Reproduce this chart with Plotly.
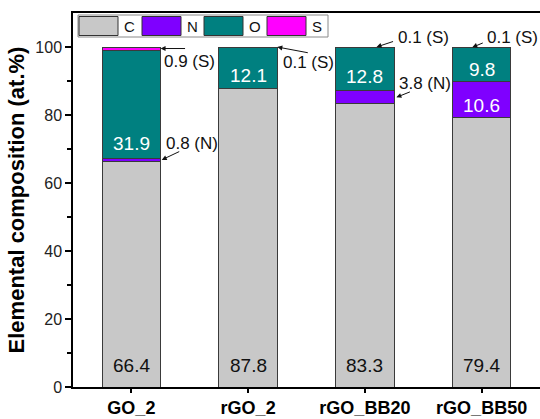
import plotly.graph_objects as go

# Elemental composition (at.%) of each sample, stacked C / N / O / S
samples = ["GO_2", "rGO_2", "rGO_BB20", "rGO_BB50"]
elements = ["C", "N", "O", "S"]
c_vals = [66.4, 87.8, 83.3, 79.4]
n_vals = [0.8, 0.0, 3.8, 10.6]
o_vals = [31.9, 12.1, 12.8, 9.8]
s_vals = [0.9, 0.1, 0.1, 0.1]
colors = ["#c8c8c8", "#7f00ff", "#008080", "#ff00ff"]

series = {"C": c_vals, "N": n_vals, "O": o_vals, "S": s_vals}

W, H = 540, 419
ML, MR, MT, MB = 73, 0, 13, 32
FONT = "Arial, Liberation Sans, sans-serif"

fig = go.Figure()
for el, col in zip(elements, colors):
    fig.add_trace(go.Bar(
        x=list(range(len(samples))), y=series[el], name=el,
        width=0.5, marker=dict(color=col, line=dict(color="#3a3a3a", width=1)),
        showlegend=False,
    ))

# cumulative base of every segment
bases = {}
running = [0.0] * len(samples)
for el in elements:
    bases[el] = list(running)
    running = [r + v for r, v in zip(running, series[el])]

annotations = []

# values printed inside the larger segments (C at the base, N/O inside)
inside_labels = [("C", i, "#111111", 22) for i in range(4)] + [
    ("O", 0, "white", 15), ("O", 1, "white", 13), ("O", 2, "white", 14),
    ("O", 3, "white", 12), ("N", 3, "white", 12)]
for el, i, col, shift in inside_labels:
    annotations.append(dict(
        x=i, y=bases[el][i], xref="x", yref="y", text=f"{series[el][i]:.1f}",
        showarrow=False, yanchor="middle", yshift=shift,
        font=dict(family=FONT, size=19, color=col)))

# callouts for the thin segments: (element, sample, head x offset, head pos,
# arrow tail dx, dy in px, text x offset, text dx, text dy)
callouts = [
    ("S", 0, 0.25, "mid", 26, 0, 0.25, 1, -13),
    ("S", 1, 0.25, "top", 32, 6, 0.25, 4, -15),
    ("S", 2, 0.10, "top", 18, -6, 0.25, 2, 10),
    ("S", 3, -0.08, "top", 12, -5, 0.0, 3, 10),
    ("N", 2, 0.27, "mid", 15, -6, 0.25, 3, 14),
    ("N", 0, 0.26, "mid", 19, -9, 0.25, 3, 16),
]
for el, i, hx, pos, ax, ay, tx, tdx, tdy in callouts:
    v = series[el][i]
    y_head = bases[el][i] + (v / 2 if pos == "mid" else v)
    annotations.append(dict(
        x=i + hx, y=y_head, xref="x", yref="y", text="", showarrow=True,
        ax=ax, ay=ay, arrowhead=2, arrowsize=1, arrowwidth=1,
        arrowcolor="#111111", standoff=0))
    annotations.append(dict(
        x=i + tx, y=y_head, xref="x", yref="y", text=f"{v:.1f} ({el})",
        showarrow=False, xanchor="left", yanchor="middle",
        xshift=tdx, yshift=tdy, font=dict(family=FONT, size=17, color="#111111")))

# framed legend row in the top-left corner
pw, ph = W - ML - MR, H - MT - MB


def px(xp):
    return (xp - ML) / pw


def py(yp):
    return (H - MB - yp) / ph


shapes = [dict(type="rect", xref="paper", yref="paper",
               x0=px(78), x1=px(328), y0=py(37), y1=py(15),
               line=dict(color="#8a8a8a", width=1), fillcolor="white")]
sw_left = [79, 142, 204, 267]
letter_x = [129.5, 192.5, 254.5, 317]
for el, col, x0, lx in zip(elements, colors, sw_left, letter_x):
    shapes.append(dict(type="rect", xref="paper", yref="paper",
                       x0=px(x0), x1=px(x0 + 39), y0=py(35.5), y1=py(16.5),
                       line=dict(color="#333333", width=1), fillcolor=col))
    annotations.append(dict(x=px(lx), y=py(26), xref="paper", yref="paper",
                            text=el, showarrow=False, xanchor="center",
                            yanchor="middle",
                            font=dict(family=FONT, size=15, color="#111111")))

fig.update_layout(
    width=W, height=H, barmode="stack", bargap=0.5,
    margin=dict(l=ML, r=MR, t=MT, b=MB, autoexpand=False),
    plot_bgcolor="white", paper_bgcolor="white",
    annotations=annotations, shapes=shapes,
    font=dict(family=FONT, color="#111111"),
)
fig.update_xaxes(
    range=[-0.5, 3.5], tickmode="array", tickvals=list(range(4)),
    ticktext=samples, showgrid=False, zeroline=False,
    showline=True, linecolor="black", linewidth=1.5, mirror=True,
    ticks="outside", ticklen=4, tickwidth=1.5, tickcolor="black",
    tickfont=dict(family=FONT, size=18, color="black", weight="bold"),
)
fig.update_yaxes(
    range=[0, 110], tickmode="array", tickvals=[0, 20, 40, 60, 80, 100],
    showgrid=False, zeroline=False,
    showline=True, linecolor="black", linewidth=1.5,
    ticks="outside", ticklen=6, tickwidth=1.5, tickcolor="black",
    minor=dict(tickvals=[10, 30, 50, 70, 90], ticks="outside", ticklen=4,
               tickwidth=1.5, tickcolor="black"),
    tickfont=dict(family=FONT, size=16, color="#222222"),
    title=dict(text="Elemental composition (at.%)", standoff=5,
               font=dict(family=FONT, size=22, color="black", weight="bold")),
)

fig.write_html("out.html")
